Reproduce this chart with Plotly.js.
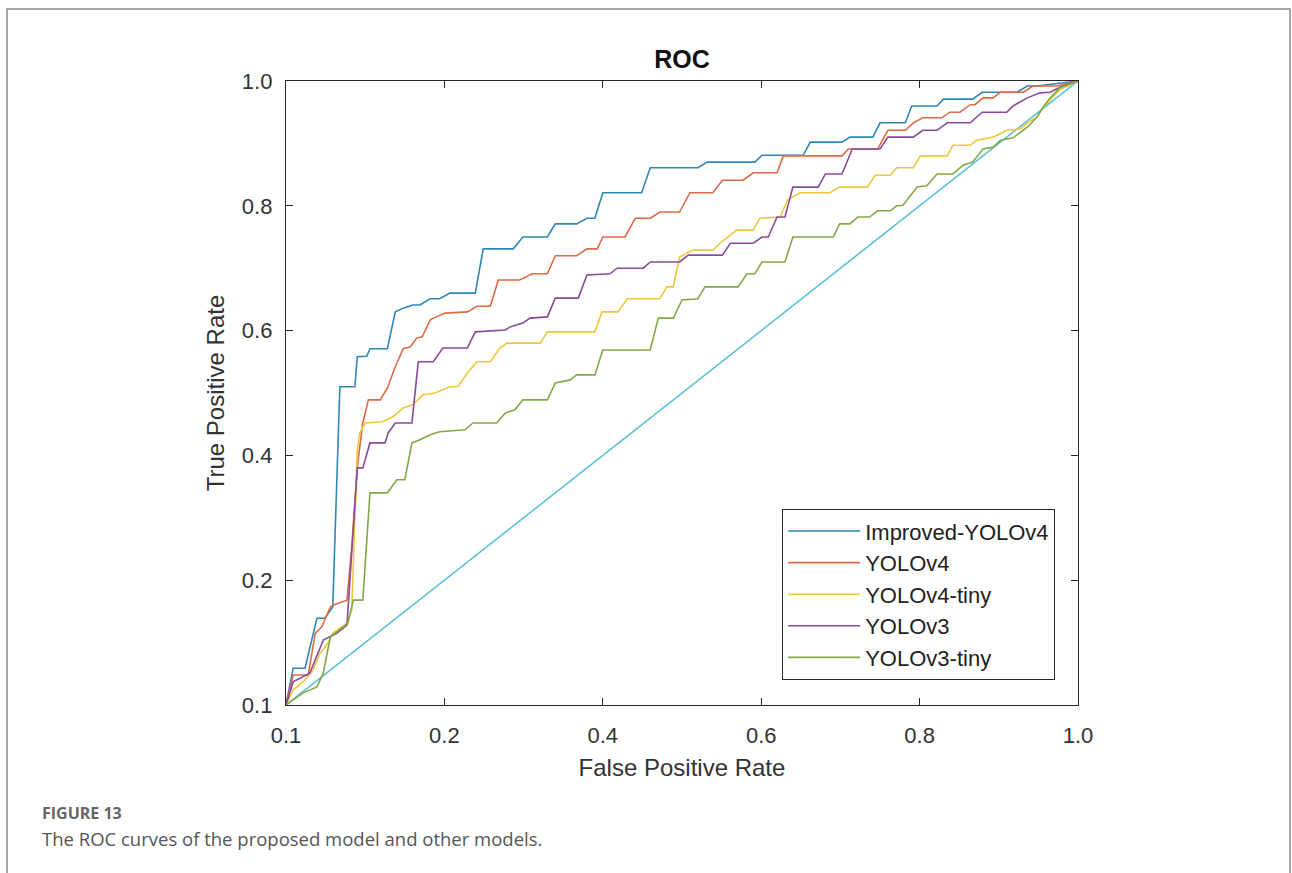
<!DOCTYPE html>
<html>
<head>
<meta charset="utf-8">
<script src="https://cdn.plot.ly/plotly-3.0.1.min.js"></script>
<style>
  html, body { margin: 0; padding: 0; background: #fff; }
  #chart { width: 1292px; height: 873px; }
</style>
</head>
<body>
<div id="chart"></div>
<script>
// ---- data (axis units: 0..1 on both axes) ----
const seriesNames = ["Improved-YOLOv4", "YOLOv4", "YOLOv4-tiny", "YOLOv3", "YOLOv3-tiny"];

const improvedX = [0,0.009,0.024,0.039,0.049,0.059,0.068,0.087,0.090,0.102,0.106,0.128,0.138,0.148,0.160,0.169,0.182,0.194,0.207,0.239,0.249,0.287,0.299,0.330,0.340,0.367,0.380,0.390,0.400,0.449,0.460,0.520,0.532,0.592,0.601,0.653,0.662,0.702,0.712,0.741,0.750,0.782,0.790,0.822,0.830,0.867,0.879,0.923,0.936,0.948,1];
const improvedY = [0,0.059,0.059,0.139,0.139,0.157,0.510,0.510,0.558,0.559,0.571,0.571,0.630,0.636,0.641,0.641,0.651,0.651,0.660,0.660,0.731,0.731,0.750,0.750,0.771,0.771,0.780,0.780,0.821,0.821,0.861,0.861,0.870,0.870,0.881,0.881,0.902,0.902,0.910,0.910,0.933,0.933,0.960,0.960,0.971,0.971,0.982,0.982,0.992,0.992,1];

const yolov4X = [0,0.009,0.028,0.037,0.045,0.056,0.059,0.077,0.083,0.090,0.093,0.097,0.104,0.119,0.128,0.138,0.148,0.157,0.165,0.172,0.182,0.186,0.201,0.229,0.241,0.258,0.268,0.295,0.311,0.330,0.340,0.367,0.380,0.393,0.400,0.428,0.441,0.460,0.472,0.497,0.510,0.539,0.551,0.577,0.590,0.620,0.628,0.702,0.710,0.747,0.760,0.782,0.792,0.804,0.828,0.838,0.851,0.864,0.870,0.880,0.893,0.902,0.931,0.943,0.973,1];
const yolov4Y = [0,0.048,0.048,0.115,0.125,0.157,0.160,0.168,0.253,0.380,0.413,0.452,0.489,0.489,0.508,0.542,0.571,0.574,0.588,0.590,0.617,0.620,0.628,0.630,0.639,0.639,0.681,0.681,0.691,0.691,0.720,0.720,0.731,0.731,0.750,0.750,0.780,0.780,0.790,0.790,0.821,0.821,0.841,0.841,0.853,0.853,0.880,0.880,0.891,0.891,0.921,0.921,0.933,0.941,0.941,0.950,0.950,0.962,0.962,0.973,0.973,0.982,0.982,0.992,0.992,1];

const yolov4TinyX = [0,0.009,0.024,0.034,0.043,0.053,0.059,0.077,0.083,0.090,0.093,0.100,0.122,0.135,0.148,0.160,0.173,0.188,0.207,0.217,0.229,0.241,0.258,0.270,0.279,0.321,0.330,0.390,0.399,0.419,0.431,0.472,0.481,0.489,0.497,0.514,0.539,0.548,0.569,0.590,0.598,0.624,0.633,0.649,0.687,0.699,0.734,0.744,0.763,0.771,0.792,0.801,0.835,0.842,0.864,0.872,0.893,0.910,0.927,0.936,0.948,0.956,0.968,0.977,1];
const yolov4TinyY = [0,0.024,0.040,0.056,0.083,0.099,0.115,0.131,0.152,0.409,0.436,0.452,0.454,0.462,0.476,0.481,0.497,0.500,0.510,0.510,0.532,0.550,0.550,0.572,0.580,0.580,0.598,0.598,0.630,0.630,0.651,0.651,0.670,0.670,0.718,0.729,0.729,0.740,0.761,0.761,0.780,0.782,0.809,0.821,0.821,0.830,0.830,0.849,0.849,0.861,0.861,0.880,0.880,0.897,0.897,0.905,0.910,0.921,0.923,0.933,0.942,0.958,0.974,0.986,1];

const yolov3X = [0,0.009,0.030,0.047,0.064,0.077,0.090,0.097,0.106,0.125,0.129,0.138,0.159,0.167,0.186,0.198,0.229,0.239,0.277,0.283,0.299,0.308,0.330,0.340,0.369,0.380,0.409,0.418,0.451,0.460,0.497,0.508,0.551,0.561,0.590,0.601,0.609,0.620,0.630,0.640,0.672,0.681,0.702,0.715,0.750,0.760,0.792,0.804,0.822,0.835,0.864,0.879,0.910,0.918,0.936,0.952,0.965,0.977,1];
const yolov3Y = [0,0.037,0.051,0.104,0.115,0.128,0.380,0.380,0.420,0.420,0.436,0.452,0.452,0.550,0.550,0.572,0.572,0.598,0.601,0.606,0.612,0.620,0.622,0.652,0.652,0.689,0.691,0.700,0.700,0.710,0.710,0.721,0.721,0.740,0.740,0.750,0.750,0.782,0.782,0.830,0.830,0.851,0.851,0.891,0.891,0.910,0.910,0.921,0.921,0.933,0.933,0.950,0.950,0.960,0.973,0.981,0.982,0.990,1];

const yolov3TinyX = [0,0.021,0.039,0.047,0.056,0.078,0.085,0.097,0.106,0.128,0.140,0.150,0.159,0.169,0.182,0.194,0.226,0.236,0.266,0.277,0.289,0.299,0.330,0.340,0.359,0.367,0.390,0.400,0.460,0.470,0.489,0.500,0.520,0.529,0.571,0.582,0.592,0.601,0.630,0.640,0.691,0.699,0.712,0.722,0.737,0.747,0.763,0.771,0.779,0.797,0.809,0.822,0.842,0.855,0.867,0.880,0.893,0.902,0.918,0.936,0.948,0.956,0.965,0.977,1];
const yolov3TinyY = [0,0.019,0.029,0.051,0.109,0.131,0.168,0.168,0.340,0.340,0.361,0.361,0.420,0.425,0.433,0.438,0.441,0.452,0.452,0.468,0.473,0.489,0.489,0.516,0.521,0.529,0.529,0.569,0.569,0.620,0.620,0.649,0.651,0.670,0.670,0.691,0.691,0.710,0.710,0.750,0.750,0.771,0.771,0.782,0.782,0.792,0.792,0.800,0.801,0.830,0.832,0.851,0.851,0.865,0.870,0.891,0.894,0.905,0.909,0.926,0.942,0.958,0.973,0.989,1];

const chanceX = [0, 1];
const chanceY = [0, 1];

const tickVals = [0, 0.2, 0.4, 0.6, 0.8, 1.0];
const xTickText = ["0.1", "0.2", "0.4", "0.6", "0.8", "1.0"];
const yTickText = ["0.1", "0.2", "0.4", "0.6", "0.8", "1.0"];

// ---- styling ----
const colors = ["#2f86b8", "#dd6a45", "#eec83a", "#8a4a9c", "#80aa45"];
const chanceColor = "#5ebfdc";
const axisColor = "#262626";

const xs = [improvedX, yolov4X, yolov4TinyX, yolov3X, yolov3TinyX];
const ys = [improvedY, yolov4Y, yolov4TinyY, yolov3Y, yolov3TinyY];

const traces = [{
  x: chanceX, y: chanceY, mode: "lines", showlegend: false,
  line: { color: chanceColor, width: 1.6 }, hoverinfo: "skip"
}];
seriesNames.forEach((n, i) => {
  traces.push({
    x: xs[i], y: ys[i], name: n, mode: "lines",
    line: { color: colors[i], width: 1.6 }
  });
});

const W = 1292, H = 873;
const L = 286, R = 1078, T = 81, B = 705;
const pw = R - L, ph = B - T;
const px = v => (v - L) / pw;
const py = v => (B - v) / ph;

const font = "Liberation Sans, Arial, sans-serif";
const capFont = "Open Sans, Noto Sans, sans-serif";

const layout = {
  width: W, height: H,
  margin: { l: L, r: W - R, t: T, b: H - B, pad: 0 },
  paper_bgcolor: "#ffffff", plot_bgcolor: "#ffffff",
  font: { family: font, color: axisColor, size: 22 },
  title: {
    text: "<b>ROC</b>", font: { family: font, size: 25, color: "#111" },
    x: 0.5, xref: "paper", y: 1 - 59 / H, yref: "container", yanchor: "middle"
  },
  xaxis: {
    range: [0, 1], tickvals: tickVals, ticktext: xTickText,
    showgrid: false, zeroline: false,
    showline: true, linecolor: axisColor, linewidth: 1.2, mirror: "ticks",
    ticks: "inside", ticklen: 7, tickwidth: 1.2, tickcolor: axisColor,
    tickfont: { family: font, size: 22, color: "#333" },
    ticklabelstandoff: 10,
    title: { text: "False Positive Rate", font: { family: font, size: 24, color: "#333" }, standoff: 12 },
    fixedrange: true
  },
  yaxis: {
    range: [0, 1], tickvals: tickVals, ticktext: yTickText,
    showgrid: false, zeroline: false,
    showline: true, linecolor: axisColor, linewidth: 1.2, mirror: "ticks",
    ticks: "inside", ticklen: 7, tickwidth: 1.2, tickcolor: axisColor,
    tickfont: { family: font, size: 22, color: "#333" },
    ticklabelstandoff: 8,
    title: { text: "True Positive Rate", font: { family: font, size: 24, color: "#333" }, standoff: 10 },
    fixedrange: true
  },
  legend: {
    x: px(1055), xanchor: "right", y: py(680), yanchor: "bottom",
    bgcolor: "#ffffff", bordercolor: axisColor, borderwidth: 1.2,
    font: { family: font, size: 22, color: "#222" },
    itemwidth: 72, tracegroupgap: 0
  },
  shapes: [{
    type: "rect", xref: "paper", yref: "paper", layer: "below",
    x0: px(7), x1: px(1290), y0: py(880), y1: py(9),
    line: { color: "#8a8a8a", width: 1.5 }, fillcolor: "rgba(0,0,0,0)"
  }],
  annotations: [
    { xref: "paper", yref: "paper", x: px(40), y: py(813), xanchor: "left", yanchor: "middle",
      text: "<b>FIGURE 13</b>", showarrow: false, font: { family: capFont, size: 16, color: "#666" } },
    { xref: "paper", yref: "paper", x: px(40), y: py(838), xanchor: "left", yanchor: "middle",
      text: "The ROC curves of the proposed model and other models.", showarrow: false,
      font: { family: capFont, size: 18.5, color: "#555" } }
  ],
  showlegend: true
};

Plotly.newPlot("chart", traces, layout, { staticPlot: true, displayModeBar: false });
</script>
</body>
</html>
